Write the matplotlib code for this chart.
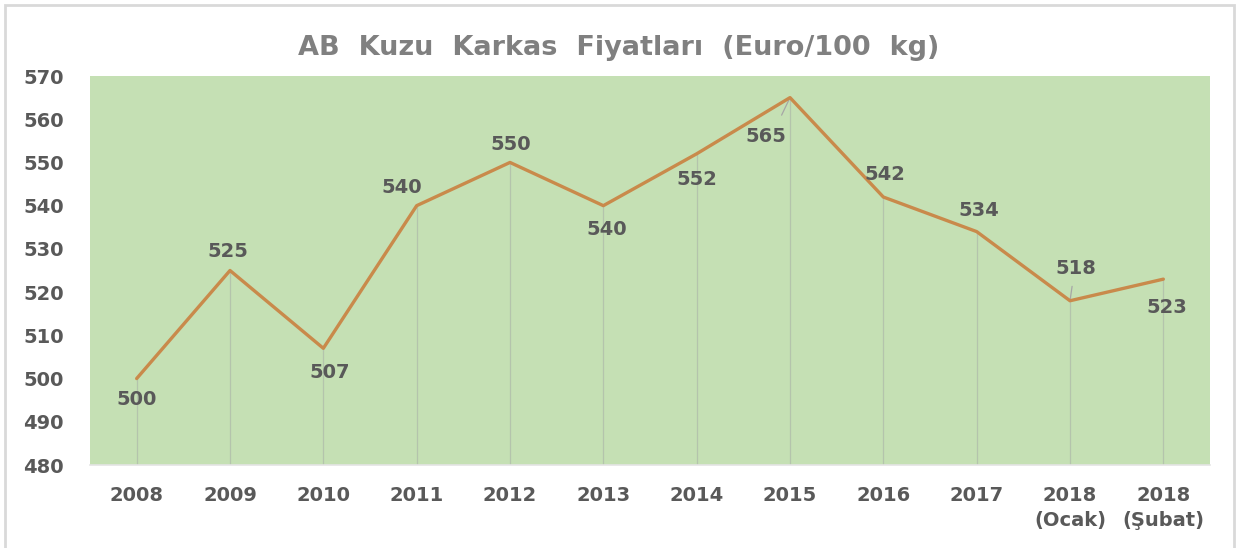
import matplotlib
import numpy as np

matplotlib.use("Agg")
import matplotlib.pyplot as plt
from matplotlib.patches import Rectangle

# data
categories = ["2008", "2009", "2010", "2011", "2012", "2013", "2014", "2015",
              "2016", "2017", "2018\n(Ocak)", "2018\n(Şubat)"]
prices = [500, 525, 507, 540, 550, 540, 552, 565, 542, 534, 518, 523]

# label offsets in pixels (dx, dy) and whether a leader line is drawn
label_offsets = [(0, -21), (-2, 19), (6, -24), (-15, 18), (1, 18), (3, -24),
                 (0, -26), (-24, -39), (2, 23), (2, 21), (6, 32), (3, -28)]
leaders = [False, False, False, False, False, False,
           False, True, False, False, True, False]

GREEN = "#c5e0b4"
LINE = "#c98a4b"
TEXT = "#595959"

fig = plt.figure(figsize=(12.37, 5.48), dpi=100)
ax = fig.add_axes([90 / 1237, 1 - 465 / 548, 1120 / 1237, 389 / 548])
ax.set_facecolor(GREEN)

x = np.arange(len(categories))
ax.vlines(x, 480, prices, color="#b4c4ac", lw=0.9, zorder=1)
ax.plot(x, prices, color=LINE, lw=2.4, zorder=3, solid_capstyle="round")

for xi, v, (dx, dy), lead in zip(x, prices, label_offsets, leaders):
    ax.annotate(
        str(v), (xi, v), xytext=(dx, dy), textcoords="offset pixels",
        ha="center", va="center", fontsize=14, fontweight="bold", color=TEXT,
        zorder=4,
    )
    if lead:
        # short leader line from the point toward the label
        ax.annotate(
            "", (xi, v), xytext=(dx * 0.35, dy * 0.45), textcoords="offset pixels",
            arrowprops=dict(arrowstyle="-", color="#a6a6a6", lw=0.9,
                            shrinkA=0, shrinkB=0),
            zorder=2,
        )

ax.set_xlim(-0.5, len(categories) - 0.5)
ax.set_ylim(480, 570)
ax.set_yticks(np.arange(480, 571, 10))
ax.set_xticks(x)
ax.set_xticklabels(categories, linespacing=1.4)
ax.tick_params(axis="both", length=0, labelsize=14, labelcolor=TEXT)
ax.tick_params(axis="x", pad=15)
ax.tick_params(axis="y", pad=19)
for lab in ax.get_xticklabels() + ax.get_yticklabels():
    lab.set_fontweight("bold")
for name, sp in ax.spines.items():
    sp.set_visible(False)
ax.spines["bottom"].set_visible(True)
ax.spines["bottom"].set_color("#e4e4e4")
ax.spines["bottom"].set_linewidth(1.2)

fig.text(0.5, 1 - 48 / 548, "AB  Kuzu  Karkas  Fiyatları  (Euro/100  kg)",
         ha="center", va="center", fontsize=19.5, fontweight="bold", color="#808080")

# outer chart border
fig.patches.append(Rectangle((5 / 1237, -0.05), 1229 / 1237, 1.05 - 5 / 548,
                             transform=fig.transFigure, fill=False,
                             edgecolor="#d9d9d9", lw=2))

fig.savefig("out.png", dpi=100)
